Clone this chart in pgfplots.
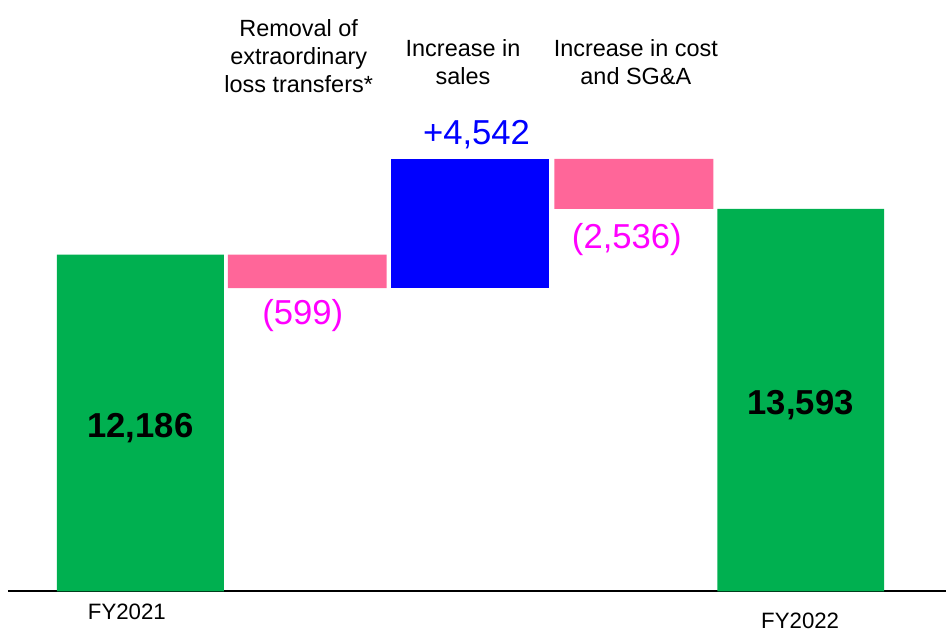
\documentclass[border=0pt]{standalone}
\usepackage{pgfplots}
\pgfplotsset{compat=1.18}
\usepackage{fontspec}
\setmainfont{Liberation Sans}
\definecolor{wfgreen}{RGB}{0,176,80}
\definecolor{wfpink}{RGB}{255,102,153}
\definecolor{wfblue}{RGB}{0,0,255}
\definecolor{wfmag}{RGB}{255,0,255}
\begin{document}
\begin{tikzpicture}
\begin{axis}[
  scale only axis,
  width=710.25pt, height=472.5pt,
  xmin=0, xmax=947,
  ymin=-1374, ymax=21407,
  hide axis,
  clip=false,
  ybar stacked,
]
% invisible base of floating bars
\addplot[draw=none, fill=none, bar width=159] coordinates {(140.5,0) (307.5,10975) (470.5,10975) (634.5,13849) (801.5,0)};
% totals
\addplot[draw=none, fill=wfgreen, bar width=167] coordinates {(140.5,12186) (307.5,0) (470.5,0) (634.5,0) (801.5,13849)};
% decreases
\addplot[draw=none, fill=wfpink, bar width=159] coordinates {(140.5,0) (307.5,1211) (470.5,0) (634.5,1808) (801.5,0)};
% increase
\addplot[draw=none, fill=wfblue, bar width=159] coordinates {(140.5,0) (307.5,0) (470.5,4682) (634.5,0) (801.5,0)};

\path (rel axis cs:0,0) rectangle (rel axis cs:1,1);
\draw[black, line width=1.5pt] (axis cs:8,0) -- (axis cs:947,0);

\node[align=center, font=\fontsize{17.6}{21}\selectfont] at (axis cs:299,19380) {Removal of\\extraordinary\\loss transfers*};
\node[align=center, font=\fontsize{17.6}{21}\selectfont] at (axis cs:463.5,19165) {Increase in\\sales};
\node[align=center, font=\fontsize{17.6}{21}\selectfont] at (axis cs:636.5,19165) {Increase in cost\\and SG\&A};

\node[text=wfblue, font=\fontsize{26}{30}\selectfont] at (axis cs:477,16526) {+4,542};
\node[text=wfmag, font=\fontsize{26}{30}\selectfont] at (axis cs:303,10000) {(599)};
\node[text=wfmag, font=\fontsize{26}{30}\selectfont] at (axis cs:627.5,12730) {(2,536)};
\coordinate (LA) at (axis cs:140.5,5920);
\coordinate (LB) at (axis cs:801.5,6760);

\node[font=\fontsize{16.7}{20}\selectfont] at (axis cs:127,-723) {FY2021};
\node[font=\fontsize{16.7}{20}\selectfont] at (axis cs:801,-1049) {FY2022};
\end{axis}
\node[font=\fontsize{26}{30}\selectfont\bfseries] at (LA) {12,186};
\node[font=\fontsize{26}{30}\selectfont\bfseries] at (LB) {13,593};
\end{tikzpicture}
\end{document}
